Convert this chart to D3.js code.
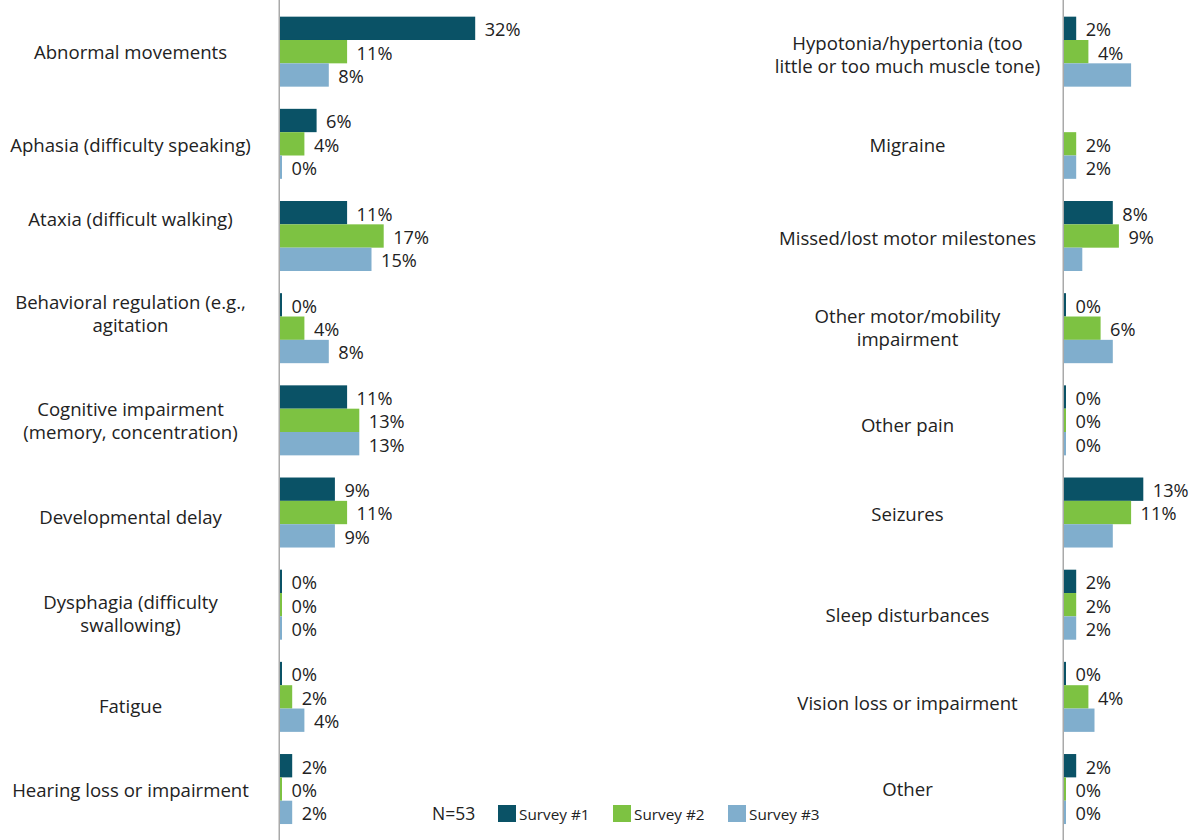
<!DOCTYPE html>
<html>
<head>
<meta charset="utf-8">
<script src="https://cdn.jsdelivr.net/npm/d3@7/dist/d3.min.js"></script>
<style>
  html, body { margin: 0; padding: 0; background: #fff; }
  svg { display: block; font-family: "Open Sans", "Noto Sans", sans-serif; }
</style>
</head>
<body>
<svg id="chart" width="1195" height="840"></svg>
<script>
// ---- Data -----------------------------------------------------------------
const seriesNames = ["Survey #1", "Survey #2", "Survey #3"];
const seriesColors = ["#0a5266", "#7dc242", "#80aecd"];
const sampleNote = "N=53";

const leftCategories = [
  "Abnormal movements",
  "Aphasia (difficulty speaking)",
  "Ataxia (difficult walking)",
  "Behavioral regulation (e.g.,\nagitation",
  "Cognitive impairment\n(memory, concentration)",
  "Developmental delay",
  "Dysphagia (difficulty\nswallowing)",
  "Fatigue",
  "Hearing loss or impairment"
];
const leftSurvey1 = [32, 6, 11, 0, 11, 9, 0, 0, 2];
const leftSurvey2 = [11, 4, 17, 4, 13, 11, 0, 2, 0];
const leftSurvey3 = [8, 0, 15, 8, 13, 9, 0, 4, 2];

const rightCategories = [
  "Hypotonia/hypertonia (too\nlittle or too much muscle tone)",
  "Migraine",
  "Missed/lost motor milestones",
  "Other motor/mobility\nimpairment",
  "Other pain",
  "Seizures",
  "Sleep disturbances",
  "Vision loss or impairment",
  "Other"
];
const rightSurvey1 = [2, null, 8, 0, 0, 13, 2, 0, 2];
const rightSurvey2 = [4, 2, 9, 6, 0, 11, 2, 4, 0];
const rightSurvey3 = [11, 2, 3, 8, 0, 8, 2, 5, 0];

// Survey #3 bars shown without a value label
const survey3Unlabelled = [
  "Hypotonia/hypertonia (too\nlittle or too much muscle tone)",
  "Missed/lost motor milestones",
  "Other motor/mobility\nimpairment",
  "Seizures",
  "Vision loss or impairment"
];

// ---- Layout ---------------------------------------------------------------
const W = 1195, H = 840;
const svg = d3.select("#chart");
svg.append("rect").attr("width", W).attr("height", H).attr("fill", "#fff");

const catFont = 18.6, valFont = 18.2, lineH = 23;
const textColor = "#222";

// small vertical adjustments of category captions (px)
const labelNudge = {
  "Abnormal movements": 1, "Aphasia (difficulty speaking)": 2,
  "Ataxia (difficult walking)": -16.5, "Behavioral regulation (e.g.,\nagitation": -14.5,
  "Cognitive impairment\n(memory, concentration)": 1, "Developmental delay": 5,
  "Dysphagia (difficulty\nswallowing)": 9, "Fatigue": 9, "Hearing loss or impairment": 1,
  "Hypotonia/hypertonia (too\nlittle or too much muscle tone)": 3, "Migraine": 2,
  "Missed/lost motor milestones": 2, "Other motor/mobility\nimpairment": 0,
  "Other pain": 5, "Seizures": 2, "Sleep disturbances": 11,
  "Vision loss or impairment": 6, "Other": 0
};

const x = d3.scaleLinear().domain([0, 32]).range([0, 195.2]);

function panel(categories, s1, s2, s3, axisX, labelCx) {
  const rows = categories.map((c, i) => ({
    cat: c,
    vals: [s1[i], s2[i], s3[i]]
  }));

  const y = d3.scaleBand()
    .domain(categories)
    .range([5.6, 835.1])
    .paddingInner(0.2405)
    .paddingOuter(0.12);

  const ySeries = d3.scaleBand()
    .domain(seriesNames)
    .range([0, y.bandwidth()]);

  const g = svg.append("g");

  // vertical axis line
  g.append("line")
    .attr("x1", axisX - 0.75).attr("x2", axisX - 0.75)
    .attr("y1", 0).attr("y2", H)
    .attr("stroke", "#a9a9a9").attr("stroke-width", 1.5);

  const groups = g.selectAll("g.row").data(rows).join("g")
    .attr("class", "row")
    .attr("transform", d => `translate(0,${y(d.cat)})`);

  const cells = groups.selectAll("g.cell")
    .data(d => d.vals.map((v, k) => ({ cat: d.cat, v, s: seriesNames[k], k })))
    .join("g").attr("class", "cell");

  cells.filter(d => d.v !== null)
    .append("rect")
    .attr("x", axisX)
    .attr("y", d => ySeries(d.s))
    .attr("width", d => Math.max(x(d.v) - x(0), 2))
    .attr("height", ySeries.bandwidth())
    .attr("fill", d => seriesColors[d.k]);

  cells.filter(d => d.v !== null && !(d.k === 2 && survey3Unlabelled.includes(d.cat)))
    .append("text")
    .attr("x", d => axisX + Math.max(x(d.v) - x(0), 2) + 9.5)
    .attr("y", d => ySeries(d.s) + ySeries.bandwidth() / 2 + valFont * 0.36 + 1.3)
    .attr("font-size", valFont)
    .attr("fill", textColor)
    .text(d => d3.format("d")(d.v) + "%");

  // category captions
  const caps = g.selectAll("text.cat").data(categories).join("text")
    .attr("class", "cat")
    .attr("text-anchor", "middle")
    .attr("font-size", catFont)
    .attr("fill", textColor);

  caps.each(function (c) {
    const lines = c.split("\n");
    const cy = y(c) + y.bandwidth() / 2 + (labelNudge[c] || 0);
    d3.select(this).selectAll("tspan").data(lines).join("tspan")
      .attr("x", labelCx)
      .attr("y", (l, i) => cy + (i - (lines.length - 1) / 2) * lineH + catFont * 0.357)
      .text(l => l);
  });
}

panel(leftCategories, leftSurvey1, leftSurvey2, leftSurvey3, 280, 130.5);
panel(rightCategories, rightSurvey1, rightSurvey2, rightSurvey3, 1064, 907.5);

// ---- Legend ---------------------------------------------------------------
const legend = svg.append("g");
legend.append("text")
  .attr("x", 432).attr("y", 820)
  .attr("font-size", 17.5).attr("fill", textColor)
  .text(sampleNote);

const items = legend.selectAll("g.item").data(seriesNames).join("g")
  .attr("class", "item")
  .attr("transform", (d, i) => `translate(${498 + i * 115},0)`);
items.append("rect")
  .attr("x", 0).attr("y", 805)
  .attr("width", 18).attr("height", 17)
  .attr("fill", (d, i) => seriesColors[i]);
items.append("text")
  .attr("x", 21).attr("y", 819.5)
  .attr("font-size", 15.3).attr("fill", textColor)
  .text(d => d);
</script>
</body>
</html>
